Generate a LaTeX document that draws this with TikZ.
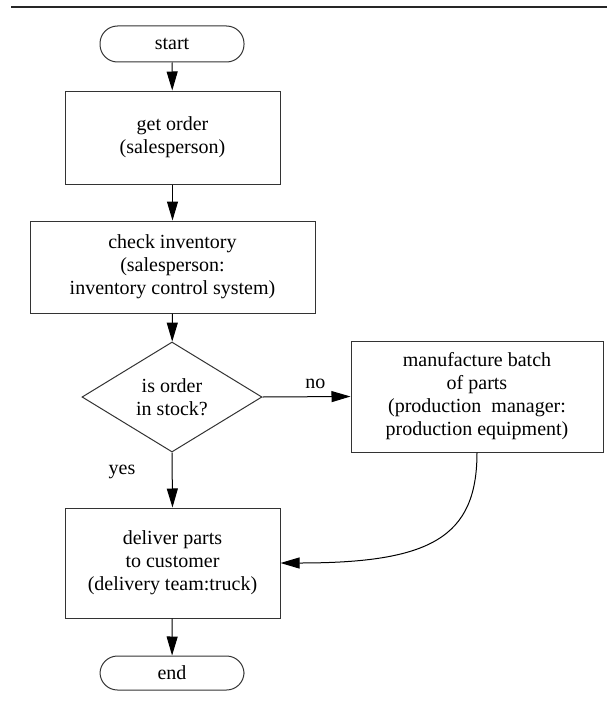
\documentclass[tikz,border=0pt]{standalone}
\usepackage{fontspec}
\setmainfont{Liberation Serif}
\usetikzlibrary{shapes.geometric,arrows.meta}

\begin{document}
\begin{tikzpicture}[x=1pt, y=-1pt, % order flow
    font=\fontsize{20}{23}\selectfont,
    box/.style={draw=black!80, line width=1pt, align=center, inner sep=0pt},
    term/.style={box, rounded corners=17.5pt, minimum width=144pt},
    flow/.style={-{Triangle[length=19pt,width=11pt]}, line width=1pt}]
  \useasboundingbox (0,0) rectangle (607,709);
  \draw[line width=1.5pt, black!85] (11,7) -- (607,7);
  \node[term, minimum height=36pt] (start) at (172,44) {start};
  \node[box, minimum width=215pt, minimum height=93pt] (getorder) at (172.5,137.5) {get order\\(salesperson)};
  \node[box, minimum width=285pt, minimum height=92pt] (check) at (172.5,267) {check inventory\\(salesperson:\\inventory control system)};
  \node[box, diamond, aspect=1.64, minimum width=180pt, minimum height=110pt] (stock) at (172,397) {is order\\in stock?};
  \node[box, minimum width=252pt, minimum height=111pt] (manuf) at (477,396.5) {manufacture batch\\of parts\\(production\ \ manager:\\production equipment)};
  \node[box, minimum width=215pt, minimum height=110pt] (deliver) at (172.5,563) {deliver parts\\to customer\\(delivery team:truck)};
  \node[term, minimum height=34pt] (end) at (172,673) {end};
  \draw[flow] (start) -- (getorder);
  \draw[flow] (getorder) -- (check);
  \draw[flow] (check) -- (stock);
  \draw[flow] (stock.east) -- node[above=4pt, pos=0.6] (nolbl) {no} (manuf.west);
  \draw[flow] (stock.south) -- node[left=33pt, pos=0.35] (yeslbl) {yes} (deliver.north);
  \draw[flow] (manuf.south) .. controls +(0,85) and +(150,0) .. (deliver.east);
  \draw[flow] (deliver) -- (end);
\end{tikzpicture}
\end{document}
